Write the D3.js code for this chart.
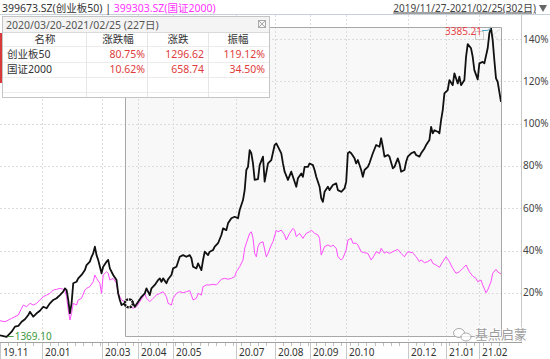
<!DOCTYPE html>
<html>
<head>
<meta charset="utf-8">
<script src="https://cdn.jsdelivr.net/npm/d3@7"></script>
<style>
body { margin: 0; background: #fff; }
svg text { font-family: "Noto Sans", "Noto Sans CJK SC", sans-serif; }
</style>
</head>
<body>
<div id="chart"></div>
<script>
// 创业板50, [trading day index since 2019/11/27, % change]
const cyb50 = [[0,0.0],[4,-0.7],[7,1.7],[9,4.1],[11,4.4],[13,6.4],[15,7.6],[17,9.6],[18,11.1],[20,8.8],[22,10.4],[24,11.6],[26,13.5],[28,12.8],[30,15.1],[32,16.7],[34,17.5],[36,19.0],[38,20.6],[39,22.2],[40,21.4],[41,16.7],[42,10.4],[43,15.1],[44,24.6],[46,25.3],[47,26.9],[49,28.5],[51,30.8],[52,33.2],[54,34.8],[55,37.1],[56,38.7],[57,41.9],[58,37.9],[59,35.6],[61,29.3],[62,32.4],[64,34.8],[65,35.6],[66,31.6],[68,28.5],[70,26.1],[71,19.8],[72,16.7],[73,14.3],[75,15.1],[78,14.3],[79,16.7],[81,13.5],[83,15.9],[85,18.2],[87,19.8],[88,22.2],[90,19.0],[91,22.2],[93,23.8],[95,26.1],[96,26.9],[97,25.3],[98,26.9],[100,24.6],[101,26.5],[103,28.5],[104,31.6],[106,32.4],[108,37.1],[110,37.9],[112,37.1],[114,37.9],[115,36.4],[116,32.4],[118,31.6],[119,34.0],[121,30.8],[122,35.6],[123,39.5],[125,37.9],[126,39.5],[128,40.3],[129,41.9],[131,43.5],[133,47.4],[134,50.5],[136,49.7],[137,52.9],[139,55.3],[141,56.0],[143,55.3],[144,59.2],[146,63.9],[147,68.6],[148,78.1],[149,79.6],[150,87.5],[151,86.0],[152,81.2],[153,73.4],[155,73.8],[156,80.4],[158,84.4],[159,72.6],[161,81.2],[163,82.8],[165,89.9],[166,90.7],[167,89.1],[169,86.0],[170,81.2],[171,77.3],[173,73.4],[175,77.3],[176,74.9],[178,70.2],[179,74.2],[181,76.5],[182,74.9],[183,79.6],[185,79.6],[186,81.2],[188,80.4],[189,78.1],[190,74.9],[192,70.2],[193,64.7],[194,63.1],[195,67.8],[197,70.2],[198,68.6],[200,71.0],[202,71.8],[203,68.6],[205,67.8],[207,69.4],[208,72.6],[209,86.0],[210,86.7],[211,86.0],[213,83.6],[214,81.2],[215,82.8],[217,78.1],[218,74.9],[219,78.1],[221,79.6],[222,81.4],[224,86.0],[226,89.9],[228,89.1],[229,93.1],[230,89.1],[231,84.4],[233,85.2],[234,84.4],[236,78.9],[237,79.6],[239,83.6],[240,81.2],[241,77.3],[243,78.1],[244,82.0],[245,84.4],[247,86.0],[249,86.7],[250,85.2],[252,84.4],[253,86.0],[255,88.3],[256,89.9],[258,92.3],[259,98.5],[260,95.4],[261,96.9],[263,96.2],[264,95.4],[265,101.7],[266,106.4],[267,114.3],[269,115.9],[270,120.6],[272,118.2],[273,123.8],[275,119.0],[276,122.2],[277,118.2],[279,120.6],[280,131.6],[281,137.6],[283,135.6],[284,131.6],[285,125.3],[287,120.9],[288,128.5],[290,129.2],[291,128.5],[293,135.6],[294,142.7],[295,145.3],[296,139.5],[297,130.1],[298,121.4],[299,119.8],[301,110.3]];

// 国证2000
const gz2000 = [[0,6.9],[3,6.4],[5,7.2],[7,8.0],[9,8.8],[11,9.6],[13,12.8],[14,14.3],[16,13.5],[18,15.1],[20,14.3],[22,15.1],[24,16.7],[26,18.2],[28,19.0],[30,19.8],[32,21.4],[34,21.7],[36,22.2],[38,21.7],[39,21.4],[40,18.2],[41,12.0],[42,7.2],[43,10.4],[44,15.1],[46,14.3],[47,16.7],[49,17.5],[51,21.4],[52,22.2],[54,23.0],[56,25.3],[57,28.5],[58,26.9],[60,24.6],[61,19.8],[62,28.5],[64,30.0],[65,29.3],[66,26.1],[68,26.9],[70,24.6],[71,19.8],[73,16.7],[75,15.9],[78,13.5],[80,12.8],[82,13.5],[84,15.9],[86,18.2],[87,19.8],[88,17.5],[90,15.9],[92,17.5],[94,19.0],[96,19.8],[98,20.6],[100,18.2],[101,15.1],[103,14.3],[104,17.5],[106,19.8],[108,20.6],[110,20.1],[112,20.6],[114,21.1],[115,19.0],[116,16.7],[118,17.5],[119,19.8],[121,19.0],[122,23.0],[124,23.8],[126,23.8],[128,24.1],[130,23.8],[131,24.6],[133,26.5],[135,26.9],[137,26.5],[139,26.9],[141,27.7],[142,30.0],[144,32.4],[146,35.6],[147,41.1],[148,43.5],[150,48.2],[151,48.9],[152,46.0],[153,38.7],[154,37.1],[155,41.9],[156,43.5],[158,44.2],[160,37.1],[161,38.7],[163,42.7],[164,44.2],[166,49.7],[167,48.9],[169,49.7],[171,47.4],[172,45.0],[174,48.2],[176,50.5],[177,49.7],[178,46.6],[180,48.2],[182,45.8],[184,48.2],[186,48.9],[187,49.7],[189,48.2],[191,47.4],[192,45.8],[193,37.9],[195,41.9],[197,42.7],[199,41.9],[200,42.7],[202,41.1],[203,37.1],[205,35.6],[206,36.4],[208,40.3],[209,45.0],[211,45.8],[212,43.5],[214,43.5],[215,42.7],[217,39.5],[219,39.0],[221,38.7],[223,35.6],[225,37.9],[226,39.5],[228,38.7],[229,41.1],[231,38.7],[232,39.5],[234,38.7],[236,39.5],[239,40.6],[241,38.7],[243,37.1],[245,39.5],[248,39.0],[250,37.1],[252,34.8],[253,35.6],[255,34.3],[257,34.8],[259,35.9],[260,34.0],[262,33.2],[264,32.1],[266,34.8],[268,37.1],[270,34.8],[272,31.6],[274,29.3],[276,30.0],[278,31.6],[280,33.2],[282,30.0],[284,28.0],[286,26.9],[287,25.3],[289,26.1],[290,23.8],[292,20.1],[293,21.4],[295,25.3],[296,29.3],[298,31.2],[299,30.0],[301,29.0]];

const tickLabels = ['19.11', '20.01', '20.03', '20.04', '20.05', '20.07', '20.08', '20.09', '20.10', '20.12', '21.01', '21.02'];
const tickDays = [0, 25, 61, 83, 104, 142, 165, 186, 208, 245, 268, 288];
const yTicks = [20, 40, 60, 80, 100, 120, 140];

const tableNames = ['创业板50', '国证2000'];
const tableChgPct = ['80.75%', '10.62%'];
const tableChg = ['1296.62', '658.74'];
const tableAmp = ['119.12%', '34.50%'];

const totalDays = 302;
const selStart = 75;   // 2020/03/20
const peakLabel = '3385.21';
const lowLabel = '1369.10';

let width = 550;
let height = 359;

let svg = d3.select('#chart')
            .append('svg')
            .attr('width', width)
            .attr('height', height);

let x = d3.scaleLinear().domain([0, totalDays - 1]).range([0, 501]);
let y = d3.scaleLinear().domain([0, 140]).range([335.3, 39]);

// selection box fill
svg.append('rect')
    .attr('x', x(selStart)).attr('y', 27)
    .attr('width', x(totalDays - 1) - x(selStart)).attr('height', 336 - 27)
    .attr('fill', '#f8f8f8');

// grid
svg.append('g')
    .selectAll('line')
    .data(yTicks)
    .enter()
    .append('line')
    .attr('x1', 0).attr('x2', 522)
    .attr('y1', d => Math.round(y(d)) + 0.5).attr('y2', d => Math.round(y(d)) + 0.5)
    .attr('stroke', '#dcdcdc')
    .attr('stroke-dasharray', '2,2');

svg.append('g')
    .selectAll('line')
    .data(tickDays.slice(1))
    .enter()
    .append('line')
    .attr('x1', d => Math.round(x(d)) + 0.5).attr('x2', d => Math.round(x(d)) + 0.5)
    .attr('y1', 15).attr('y2', 342)
    .attr('stroke', '#dcdcdc')
    .attr('stroke-dasharray', '2,2');

// header line + right border
svg.append('line').attr('x1', 0).attr('x2', 550).attr('y1', 14.5).attr('y2', 14.5)
    .attr('stroke', '#c5d0dc');
svg.append('line').attr('x1', 521.5).attr('x2', 521.5).attr('y1', 15).attr('y2', 342)
    .attr('stroke', '#c8c8c8');

// x axis
svg.append('line').attr('x1', 0).attr('x2', 522).attr('y1', 342.5).attr('y2', 342.5)
    .attr('stroke', '#a0a0a0');

svg.append('g')
    .selectAll('line')
    .data(d3.range(0, totalDays, 5))
    .enter()
    .append('line')
    .attr('x1', d => Math.round(x(d)) + 0.5).attr('x2', d => Math.round(x(d)) + 0.5)
    .attr('y1', 343).attr('y2', 346)
    .attr('stroke', '#c0c0c0');

let xTicks = svg.append('g')
    .selectAll('g')
    .data(tickDays)
    .enter()
    .append('g')
    .attr('transform', d => 'translate(' + (Math.round(x(d)) + 0.5) + ',0)');

xTicks.append('line')
    .attr('y1', 343).attr('y2', 359)
    .attr('stroke', '#c8c8c8');

xTicks.append('text')
    .attr('x', 2.5).attr('y', 356)
    .attr('font-size', '10px')
    .attr('fill', '#333')
    .text((d, i) => tickLabels[i]);

// y axis labels
svg.append('g')
    .selectAll('text')
    .data(yTicks)
    .enter()
    .append('text')
    .attr('x', 523).attr('y', d => y(d) + 3.5)
    .attr('font-size', '10px')
    .attr('fill', '#444')
    .text(d => d + '%');

// lines
let line = d3.line()
    .x(d => x(d[0]))
    .y(d => y(d[1]));

svg.append('path')
    .datum(gz2000)
    .attr('d', line)
    .attr('fill', 'none')
    .attr('stroke', '#ff4dff')
    .attr('stroke-width', 1);

svg.append('path')
    .datum(cyb50)
    .attr('d', line)
    .attr('fill', 'none')
    .attr('stroke', '#111')
    .attr('stroke-width', 1.8)
    .attr('stroke-linejoin', 'round');

// selection box border
svg.append('path')
    .attr('d', 'M' + (Math.round(x(selStart)) + 0.5) + ',336.5V27.5H' + (Math.round(x(totalDays - 1)) + 0.5) + 'V336.5Z')
    .attr('fill', 'none')
    .attr('stroke', '#a8a8a8');

// selection start marker
let startPt = cyb50.find(d => d[0] === selStart);
svg.append('circle')
    .attr('cx', x(startPt[0]) + 4).attr('cy', y(startPt[1]))
    .attr('r', 4)
    .attr('fill', '#fff')
    .attr('stroke', '#111')
    .attr('stroke-width', 2.4)
    .attr('stroke-dasharray', '2.2,0.9');

// peak / low labels
let peak = cyb50[d3.maxIndex(cyb50, d => d[1])];
let low = cyb50[d3.minIndex(cyb50, d => d[1])];

svg.append('rect').attr('x', 475.5).attr('y', 31.5).attr('width', 8).attr('height', 8)
    .attr('fill', 'none').attr('stroke', '#ccc');
svg.append('path').attr('d', 'M500,29L493,35L500,41').attr('fill', 'none').attr('stroke', '#ddd');
svg.append('text')
    .attr('x', x(peak[0]) - 9).attr('y', 35)
    .attr('text-anchor', 'end')
    .attr('font-size', '10px')
    .attr('fill', '#e8454a')
    .text(peakLabel);
svg.append('path')
    .attr('d', 'M' + (x(peak[0]) - 9) + ',30.5H' + (x(peak[0]) - 4) + 'L' + x(peak[0]) + ',' + (y(peak[1]) + 1))
    .attr('fill', 'none').attr('stroke', '#4aa8c8');

svg.append('path')
    .attr('d', 'M' + (x(low[0]) + 1) + ',' + 336.5 + 'H' + (x(low[0]) + 7))
    .attr('stroke', '#50a050');
svg.append('text')
    .attr('x', x(low[0]) + 8).attr('y', 340)
    .attr('font-size', '10px')
    .attr('fill', '#3c9a3c')
    .text(lowLabel);

// header texts
let head = svg.append('text').attr('x', 2).attr('y', 11.5).attr('font-size', '10.5px');
head.append('tspan').attr('fill', '#333').text('399673.SZ(创业板50) | ');
head.append('tspan').attr('fill', '#ff33ff').text('399303.SZ(国证2000)');

svg.append('text')
    .attr('x', 536).attr('y', 11.5)
    .attr('text-anchor', 'end')
    .attr('font-size', '10px')
    .attr('fill', '#444')
    .attr('text-decoration', 'underline')
    .text('2019/11/27-2021/02/25(302日)');
svg.append('path').attr('d', 'M539,5H547L543,12Z').attr('fill', '#666');

// info table
let tbl = svg.append('g');
tbl.append('rect').attr('x', 2.5).attr('y', 16.5).attr('width', 267).attr('height', 81)
    .attr('fill', '#fff').attr('stroke', '#c4c4c4');
tbl.append('rect').attr('x', 3).attr('y', 17).attr('width', 266).attr('height', 15)
    .attr('fill', '#f4f4f4');
tbl.append('line').attr('x1', 3).attr('x2', 269).attr('y1', 32.5).attr('y2', 32.5).attr('stroke', '#dadada');
tbl.append('text').attr('x', 6).attr('y', 28.5).attr('font-size', '10.5px').attr('fill', '#555')
    .text('2020/03/20-2021/02/25 (227日)');
tbl.append('rect').attr('x', 258.5).attr('y', 20.5).attr('width', 7).attr('height', 7)
    .attr('fill', 'none').attr('stroke', '#aaa');
tbl.append('path').attr('d', 'M259,21L265,27M265,21L259,27').attr('stroke', '#aaa');

[46, 62, 77, 92].forEach(function(ry) {
    tbl.append('line').attr('x1', 3).attr('x2', 269).attr('y1', ry + 0.5).attr('y2', ry + 0.5).attr('stroke', '#ececec');
});
[86, 147, 208].forEach(function(cx) {
    tbl.append('line').attr('x1', cx + 0.5).attr('x2', cx + 0.5).attr('y1', 33).attr('y2', 97).attr('stroke', '#e6e6e6');
});
tbl.append('rect').attr('x', 0).attr('y', 33).attr('width', 2).attr('height', 50).attr('fill', '#d83a3a');

let heads = ['名称', '涨跌幅', '涨跌', '振幅'];
let headX = [45, 118, 178, 238];
heads.forEach(function(h, i) {
    tbl.append('text').attr('x', headX[i]).attr('y', 43).attr('text-anchor', 'middle')
        .attr('font-size', '10.5px').attr('fill', '#333').text(h);
});
tableNames.forEach(function(n, i) {
    let ry = 58 + i * 15;
    tbl.append('text').attr('x', 7).attr('y', ry).attr('font-size', '10.5px').attr('fill', '#333').text(n);
    tbl.append('text').attr('x', 145).attr('y', ry).attr('text-anchor', 'end').attr('font-size', '10.5px').attr('fill', '#e03c3c').text(tableChgPct[i]);
    tbl.append('text').attr('x', 204).attr('y', ry).attr('text-anchor', 'end').attr('font-size', '10.5px').attr('fill', '#e03c3c').text(tableChg[i]);
    tbl.append('text').attr('x', 265).attr('y', ry).attr('text-anchor', 'end').attr('font-size', '10.5px').attr('fill', '#e03c3c').text(tableAmp[i]);
});

// watermark
let wm = svg.append('g').attr('opacity', 0.8);
wm.append('ellipse').attr('cx', 459).attr('cy', 333).attr('rx', 5.5).attr('ry', 4.5)
    .attr('fill', '#fff').attr('stroke', '#999');
wm.append('ellipse').attr('cx', 466).attr('cy', 337).attr('rx', 5).attr('ry', 4)
    .attr('fill', '#fff').attr('stroke', '#999');
wm.append('text').attr('x', 475).attr('y', 339).attr('font-size', '13px')
    .attr('fill', '#888').attr('stroke', '#fff').attr('stroke-width', 2).attr('paint-order', 'stroke')
    .text('基点启蒙');
</script>
</body>
</html>
